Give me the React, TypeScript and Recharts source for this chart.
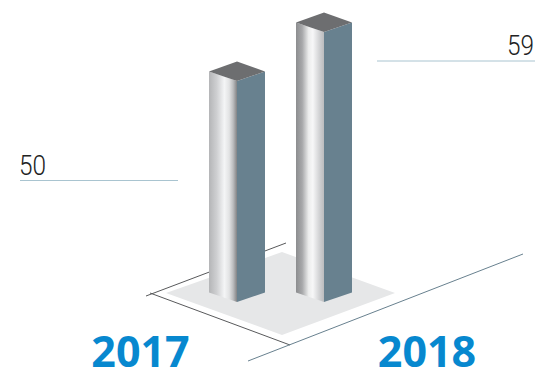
import { Bar, BarChart, XAxis, YAxis } from "recharts";

const years = ["2017", "2018"];
const totals = [50, 59];

const chartData = years.map((year, i) => ({ year, total: totals[i] }));

const DEPTH = 10;
const BASE_DROP = 9.5;

// Metallic sheen on the left face of each column
const sheens = [
    [
        [0, "#b4b5b7"],
        [0.28, "#cfd0d2"],
        [0.55, "#f4f5f6"],
        [0.72, "#e2e3e4"],
        [0.86, "#bcbdbf"],
        [1, "#828385"],
    ],
    [
        [0, "#8c8d8f"],
        [0.22, "#a7a8aa"],
        [0.45, "#eceded"],
        [0.6, "#f7f7f8"],
        [0.85, "#cfd0d2"],
        [1, "#bbbcbe"],
    ],
];

const pts = (list: number[][]) => list.map((p) => p.join(",")).join(" ");

function Column(props: any) {
    const { x, y, width, height, index } = props;
    const mid = x + width / 2;
    const right = x + width;
    const bottom = y + height;
    return (
        <g>
            <polygon
                points={pts([[x, y - BASE_DROP], [mid, y], [mid, bottom], [x, bottom - BASE_DROP]])}
                fill={`url(#sheen${index})`}
            />
            <polygon
                points={pts([[mid, y], [right, y - BASE_DROP], [right, bottom - BASE_DROP], [mid, bottom]])}
                fill="#68818f"
            />
            <polygon
                points={pts([[x, y - BASE_DROP], [mid, y - BASE_DROP - DEPTH], [right, y - BASE_DROP], [mid, y]])}
                fill="#6d6e70"
            />
        </g>
    );
}

const valueText = {
    fontFamily: "Roboto, sans-serif",
    fontWeight: 300,
    fontSize: 28,
    fill: "#222222",
    textLength: 27,
    lengthAdjust: "spacingAndGlyphs",
};

const yearText = {
    fontFamily: "'Open Sans', sans-serif",
    fontWeight: 700,
    fontSize: 43,
    fill: "#0788cf",
    textAnchor: "middle",
};

export default function App() {
    return (
        <div style={{ position: "absolute", left: 0, top: 0 }}>
            <BarChart
                width={537}
                height={370}
                data={chartData}
                margin={{ top: 32, right: 170, bottom: 68, left: 193 }}
                barCategoryGap={0}
            >
                <defs>
                    {sheens.map((stops, i) => (
                        <linearGradient key={i} id={`sheen${i}`} x1="0" y1="0" x2="1" y2="0">
                            {stops.map(([offset, color]) => (
                                <stop key={offset} offset={offset} stopColor={color as string} />
                            ))}
                        </linearGradient>
                    ))}
                </defs>

                {/* floor under the columns */}
                <polygon points="166,293 282,252 395,293 282,335" fill="#e6e7e8" />
                <line x1={146} y1={296} x2={286} y2={243} stroke="#58595b" strokeWidth={1} />
                <line x1={150} y1={293} x2={290} y2={345} stroke="#58595b" strokeWidth={1} />
                <line x1={248} y1={361} x2={523} y2={254} stroke="#68818f" strokeWidth={1} />

                <XAxis dataKey="year" hide />
                <YAxis hide domain={[9.4, 59]} />
                <Bar dataKey="total" barSize={56} shape={<Column />} isAnimationActive={false} />

                {/* value call-outs */}
                <line x1={20} y1={180.5} x2={178} y2={180.5} stroke="#a9c4d0" strokeWidth={1} />
                <line x1={377} y1={61} x2={535} y2={61} stroke="#a9c4d0" strokeWidth={1} />
                <text x={19} y={175} {...valueText}>
                    {totals[0]}
                </text>
                <text x={507} y={55} {...valueText}>
                    {totals[1]}
                </text>

                {/* year captions */}
                <text x={140.5} y={367} {...yearText}>
                    {years[0]}
                </text>
                <text x={427} y={367} {...yearText}>
                    {years[1]}
                </text>
            </BarChart>
        </div>
    );
}
